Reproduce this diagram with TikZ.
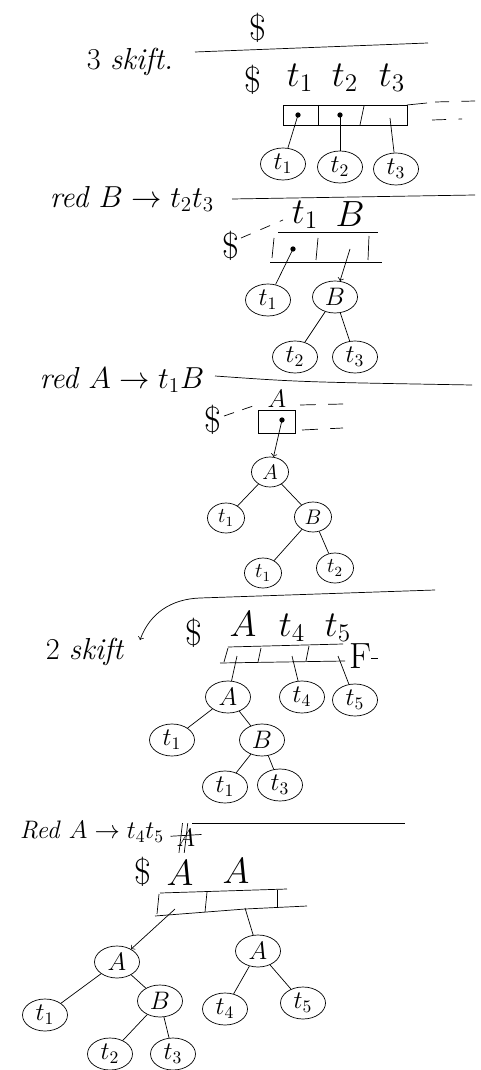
\documentclass[tikz,border=0pt]{standalone}
\usetikzlibrary{shapes.geometric}
\begin{document}
\begin{tikzpicture}[x=0.02cm,y=-0.02cm]

      \useasboundingbox (0,0) rectangle (480,1070);

      \begin{scope}[every node/.style={font=\LARGE}]
        \node (h1) at (130,62)  {3 \textit{skift.}};
        \node (h2) at (132,199) {\textit{red} $B\rightarrow t_2t_3$};
        \node (h3) at (122,380) {\textit{red} $A\rightarrow t_1B$};
        \node (h4) at (85,652)  {2 \textit{skift}};
      \end{scope}
      \node[font=\Large] (h5) at (92,832) {\textit{Red} $A\rightarrow t_4t_5$};
      \node[font=\Large] (x5) at (186,838) {$A$};

      \begin{scope}[every node/.style={font=\huge}]
        \node (s10) at (258,28)  {\$};
        \node (s11) at (253,80)  {\$};
        \node (s12) at (300,78)  {$t_1$};
        \node (s13) at (345,78)  {$t_2$};
        \node (s14) at (392,78)  {$t_3$};
        \node (s21) at (231,246) {\$};
        \node (s22) at (305,215) {$t_1$};
        \node (s23) at (350,214) {$B$};
        \node (s31) at (213,420) {\$};
        \node[font=\Large] (s32) at (277,399) {$A$};
        \node (s41) at (194,633) {\$};
        \node (s42) at (243,624) {$A$};
        \node (s43) at (292,628) {$t_4$};
        \node (s44) at (338,628) {$t_5$};
        \node (f4)  at (360,656) {F};
        \node (s51) at (143,872) {\$};
        \node (s52) at (180,873) {$A$};
        \node (s53) at (236,871) {$A$};
      \end{scope}

      % lines between the steps
      \draw (195,52) -- (428,43);
      \draw (232,199) -- (475,195);
      \draw (215,376) .. controls (300,382) .. (472,385);
      \draw[->] (435,590) -- (200,598) to[out=182,in=70] (140,640);
      \draw (192,823) -- (405,823);
      \draw ([xshift=-2pt]x5.north) -- ([xshift=-4pt]x5.south);
      \draw ([xshift=1pt]x5.north) -- ([xshift=-1pt]x5.south);
      \draw ([yshift=1pt]x5.west) -- ([yshift=2pt]x5.east);

      % stacks
      \begin{scope}[every path/.style={draw}]
        \path (283,105) rectangle (407,125);
        \path (318,105) -- (318,125);
        \path (364,106) -- (360,125);
        \path (407,105) -- (427,103);
        \path[dash pattern=on 8pt off 7pt] (435,102) -- (475,101);
        \path[dash pattern=on 8pt off 7pt] (432,120) -- (462,119);

        \path (278,232) -- (378,232);
        \path (270,262) -- (382,262);
        \path (274,238) -- (272,258);
        \path (318,238) -- (316,260);
        \path (369,236) -- (368,260);
        \path[dash pattern=on 6pt off 6pt] (241,238) -- (283,220);

        \path (258,410) rectangle (295,433);
        \path[dash pattern=on 6pt off 5pt] (224,416) -- (256,405);
        \path[dash pattern=on 9pt off 7pt] (300,405) -- (343,404);
        \path[dash pattern=on 9pt off 7pt] (302,430) -- (343,428);

        \path (228,647) -- (343,644);
        \path (220,663) -- (345,661);
        \path (228,648) -- (224,662);
        \path (261,648) -- (258,662);
        \path (309,646) -- (306,661);
        \path (371,658) -- (378,658);

        \path (160,893) -- (287,889);
        \path (155,916) -- (245,909) -- (307,906);
        \path (159,894) -- (157,914);
        \path (207,892) -- (205,912);
        \path (277,890) -- (277,907);
      \end{scope}

      \coordinate (c11) at (298,115);
      \coordinate (c12) at (340,115);
      \coordinate (c13) at (390,118);
      \coordinate (c21) at (293,249);
      \coordinate (c22) at (350,249);
      \coordinate (c31) at (282,420);
      \coordinate (c41) at (237,656);
      \coordinate (c42) at (292,656);
      \coordinate (c43) at (338,656);
      \coordinate (c51) at (175,909);
      \coordinate (c52) at (245,908);
      \fill (c11) circle (1.5pt);
      \fill (c12) circle (1.5pt);
      \fill (c21) circle (1.5pt);
      \fill (c31) circle (1.5pt);

      \begin{scope}[every node/.style={ellipse, draw, minimum width=0.9cm,
          minimum height=0.64cm, inner sep=0pt, font=\Large}]
        \node (11) at (283,164) {$t_1$};
        \node (12) at (340,167) {$t_2$};
        \node (13) at (396,169) {$t_3$};

        \node (21) at (268,300) {$t_1$};
        \node (22) at (335,297) {$B$};
        \node (23) at (295,357) {$t_2$};
        \node (24) at (355,357) {$t_3$};

        \begin{scope}[every node/.style={ellipse, draw, minimum width=0.74cm,
            minimum height=0.6cm, inner sep=0pt, font=\large}]
          \node (31) at (270,472) {$A$};
          \node (32) at (226,518) {$t_1$};
          \node (33) at (313,517) {$B$};
          \node (34) at (263,573) {$t_1$};
          \node (35) at (335,568) {$t_2$};
        \end{scope}

        \node (41) at (228,697) {$A$};
        \node (42) at (302,697) {$t_4$};
        \node (43) at (355,700) {$t_5$};
        \node (44) at (172,740) {$t_1$};
        \node (45) at (262,740) {$B$};
        \node (46) at (225,787) {$t_1$};
        \node (47) at (280,785) {$t_3$};

        \node (51) at (117,962)  {$A$};
        \node (52) at (258,951)  {$A$};
        \node (53) at (45,1015)  {$t_1$};
        \node (54) at (160,1001) {$B$};
        \node (55) at (110,1054) {$t_2$};
        \node (56) at (173,1054) {$t_3$};
        \node (57) at (225,1009) {$t_4$};
        \node (58) at (303,1003) {$t_5$};
      \end{scope}

      \begin{scope}[every edge/.style={draw}]
        \path (c11) edge (11);
        \path (c12) edge (12);
        \path (c13) edge (13);
        \path (c21) edge (21);
        \path (c22) edge[->] (22);
        \path (22) edge (23);
        \path (22) edge (24);
        \path (c31) edge[->] (31);
        \path (31) edge (32);
        \path (31) edge (33);
        \path (33) edge (34);
        \path (33) edge (35);
        \path (c41) edge (41);
        \path (c42) edge (42);
        \path (c43) edge (43);
        \path (41) edge (44);
        \path (41) edge (45);
        \path (45) edge (46);
        \path (45) edge (47);
        \path (c51) edge[->] (51);
        \path (c52) edge (52);
        \path (51) edge (53);
        \path (51) edge (54);
        \path (54) edge (55);
        \path (54) edge (56);
        \path (52) edge (57);
        \path (52) edge (58);
      \end{scope}

    \end{tikzpicture}
\end{document}
